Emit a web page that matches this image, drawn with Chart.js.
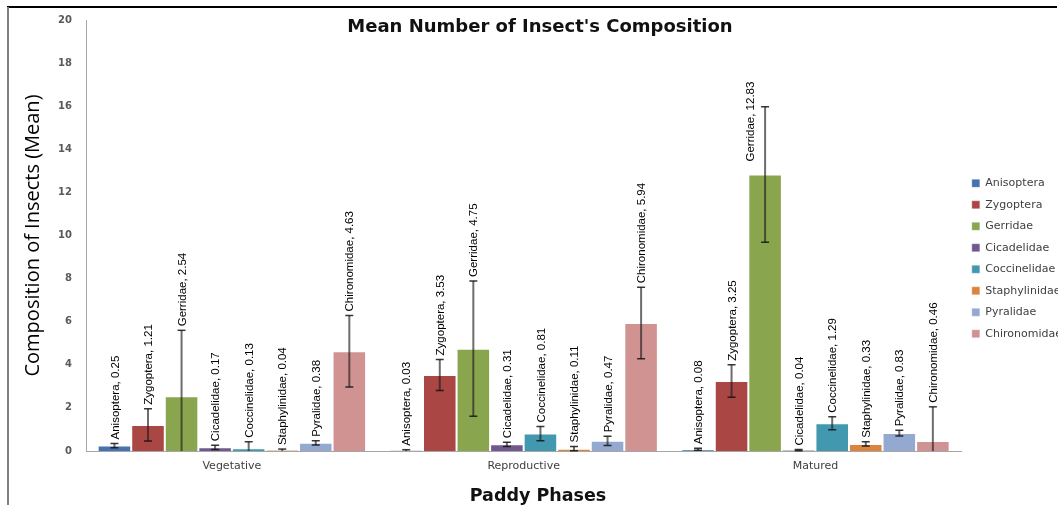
<!DOCTYPE html>
<html>
<head>
<meta charset="utf-8">
<script src="https://cdn.jsdelivr.net/npm/chart.js@4.4.1/dist/chart.umd.min.js"></script>
<style>
  html, body { margin: 0; padding: 0; background: #fff; }
  #wrap { width: 1058px; height: 505px; position: relative; }
</style>
</head>
<body>
<div id="wrap"><canvas id="chart"></canvas></div>
<script>
const chartTitle = "Mean Number of Insect's Composition";
const xTitle = 'Paddy Phases';
const yTitle = 'Composition of Insects (Mean)';
const categories = ['Vegetative', 'Reproductive', 'Matured'];
const yTicks = [0, 2, 4, 6, 8, 10, 12, 14, 16, 18, 20];

const seriesNames = ['Anisoptera', 'Zygoptera', 'Gerridae', 'Cicadelidae', 'Coccinelidae', 'Staphylinidae', 'Pyralidae', 'Chironomidae'];
const anisoptera = [0.25, 0.03, 0.08];
const zygoptera = [1.21, 3.53, 3.25];
const gerridae = [2.54, 4.75, 12.83];
const cicadelidae = [0.17, 0.31, 0.04];
const coccinelidae = [0.13, 0.81, 1.29];
const staphylinidae = [0.04, 0.11, 0.33];
const pyralidae = [0.38, 0.47, 0.83];
const chironomidae = [4.63, 5.94, 0.46];

// error bar half widths
const anisopteraErr = [0.1, 0.03, 0.05];
const zygopteraErr = [0.75, 0.72, 0.75];
const gerridaeErr = [3.06, 3.14, 3.14];
const cicadelidaeErr = [0.1, 0.1, 0.03];
const coccinelidaeErr = [0.3, 0.33, 0.3];
const staphylinidaeErr = [0.05, 0.1, 0.1];
const pyralidaeErr = [0.1, 0.21, 0.13];
const chironomidaeErr = [1.66, 1.66, 1.59];

const seriesValues = [anisoptera, zygoptera, gerridae, cicadelidae, coccinelidae, staphylinidae, pyralidae, chironomidae];
const seriesErrors = [anisopteraErr, zygopteraErr, gerridaeErr, cicadelidaeErr, coccinelidaeErr, staphylinidaeErr, pyralidaeErr, chironomidaeErr];
const seriesColors = ['#4673B0', '#AA4643', '#89A54E', '#71588F', '#4198AF', '#DB843D', '#93A9CF', '#D19392'];

const errorBarsAndLabels = {
  id: 'errorBarsAndLabels',
  afterDatasetsDraw(chart) {
    const { ctx, chartArea } = chart;
    const yScale = chart.scales.y;
    chart.data.datasets.forEach((ds, di) => {
      const meta = chart.getDatasetMeta(di);
      meta.data.forEach((bar, i) => {
        const v = ds.data[i];
        const err = ds.errors[i];
        const x = bar.x;
        const yTop = yScale.getPixelForValue(v + err);
        const yBot = Math.min(yScale.getPixelForValue(v - err), chartArea.bottom);
        ctx.save();
        ctx.strokeStyle = 'rgba(30,30,30,0.65)';
        ctx.lineWidth = 2;
        ctx.beginPath();
        ctx.moveTo(x, yTop);
        ctx.lineTo(x, yBot);
        ctx.stroke();
        ctx.lineWidth = 1.5;
        ctx.strokeStyle = 'rgba(20,20,20,0.85)';
        ctx.beginPath();
        ctx.moveTo(x - 4, yTop);
        ctx.lineTo(x + 4, yTop);
        if (v - err > 0) {
          ctx.moveTo(x - 4, yBot);
          ctx.lineTo(x + 4, yBot);
        }
        ctx.stroke();

        const text = ds.label + ', ' + v.toFixed(2);
        ctx.font = '11.5px "Liberation Sans Narrow", "Liberation Sans", sans-serif';
        const w = ctx.measureText(text).width;
        let lx = x + 1;
        let ly = yTop - 4;
        // too tall to sit above the error bar: put it beside it
        if (ly - w < chartArea.top + 40) {
          lx = x - 14;
          ly = bar.y - 13;
        }
        ctx.translate(lx, ly);
        ctx.rotate(-Math.PI / 2);
        ctx.fillStyle = '#000';
        ctx.textAlign = 'left';
        ctx.textBaseline = 'middle';
        ctx.fillText(text, 0, 0);
        ctx.restore();
      });
    });
  },
  afterDraw(chart) {
    const { ctx } = chart;
    ctx.save();
    // outer frame
    ctx.strokeStyle = '#000';
    ctx.lineWidth = 2;
    ctx.beginPath();
    ctx.moveTo(7, 7);
    ctx.lineTo(1057, 7);
    ctx.stroke();
    ctx.strokeStyle = '#808080';
    ctx.beginPath();
    ctx.moveTo(8, 7);
    ctx.lineTo(8, 505);
    ctx.stroke();

    ctx.fillStyle = '#111';
    ctx.textAlign = 'center';
    ctx.textBaseline = 'middle';
    ctx.font = 'bold 18px "DejaVu Sans", sans-serif';
    ctx.fillText(chartTitle, 540, 27);
    ctx.font = 'bold 17.5px "DejaVu Sans", sans-serif';
    ctx.fillText(xTitle, 538, 496);
    ctx.restore();
  }
};

const datasets = seriesNames.map((name, i) => ({
  label: name,
  data: seriesValues[i],
  errors: seriesErrors[i],
  backgroundColor: seriesColors[i],
  borderColor: 'rgba(255,255,255,0.3)',
  borderWidth: 1,
  categoryPercentage: 0.92,
  barPercentage: 1.0,
}));

new Chart(document.getElementById('chart'), {
  type: 'bar',
  data: { labels: categories, datasets },
  options: {
    responsive: true,
    maintainAspectRatio: false,
    animation: false,
    layout: { padding: { left: 10, top: 12, right: -14, bottom: 0 } },
    plugins: {
      title: { display: false },
      tooltip: { enabled: false },
      legend: {
        position: 'right',
        align: 'center',
        labels: {
          boxWidth: 8,
          boxHeight: 8,
          padding: 10.5,
          color: '#404040',
          font: { family: '"DejaVu Sans", sans-serif', size: 11 },
        },
      },
    },
    scales: {
      x: {
        grid: { display: false, drawTicks: false },
        border: { display: true, color: '#a6a6a6', width: 1 },
        ticks: {
          padding: 9,
          color: '#404040',
          font: { family: '"DejaVu Sans", sans-serif', size: 11 },
        },
        afterFit(scale) { scale.height = 54; },
      },
      y: {
        min: 0,
        max: 20,
        afterBuildTicks(scale) { scale.ticks = yTicks.map((v) => ({ value: v })); },
        grid: { display: false, drawTicks: false },
        border: { display: true, color: '#a6a6a6', width: 1 },
        ticks: {
          padding: 14,
          color: '#5a5a5a',
          font: { family: '"DejaVu Sans", sans-serif', size: 10, weight: 'bold' },
        },
        title: {
          display: true,
          text: yTitle,
          color: '#000',
          padding: { top: 11, bottom: 0 },
          font: { family: '"Open Sans", sans-serif', size: 20 },
        },
        afterFit(scale) { scale.width = 76; },
      },
    },
  },
  plugins: [errorBarsAndLabels],
});
</script>
</body>
</html>
